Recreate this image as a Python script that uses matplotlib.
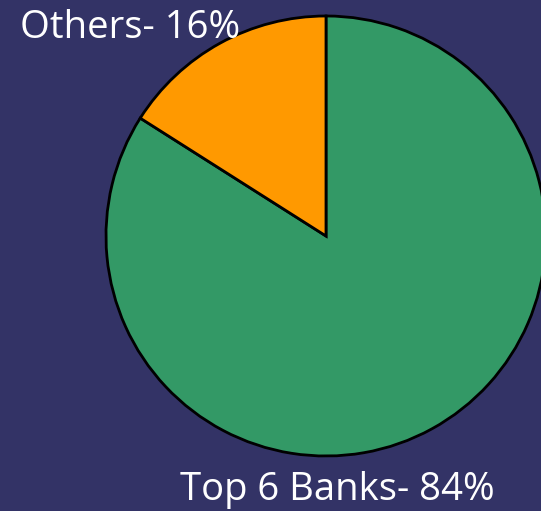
import matplotlib
matplotlib.use('Agg')
import matplotlib.pyplot as plt

# 数据
labels = ['Top 6 Banks', 'Others']
shares = [84, 16]
colors = ['#339966', '#FF9900']
bg = '#333366'

fig = plt.figure(figsize=(5.41, 5.11), dpi=100, facecolor=bg)
ax = fig.add_axes([0, 0, 1, 1])
ax.set_facecolor(bg)

# 饼图：从顶部开始顺时针
ax.pie(shares, colors=colors, startangle=90, counterclock=False,
       center=(326, 275), radius=220, frame=True,
       wedgeprops=dict(edgecolor='black', linewidth=2))
ax.set_xlim(0, 541)
ax.set_ylim(0, 511)
ax.set_aspect('equal')
ax.axis('off')

# 标签
pos = [(180, 11), (20, 473)]
for (x, y), lab, s in zip(pos, labels, shares):
    ax.text(x, y, f'{lab}- {s}%', color='white', fontsize=27.5,
            family='Open Sans', ha='left', va='baseline')

fig.savefig('out.png', dpi=100, facecolor=bg)
